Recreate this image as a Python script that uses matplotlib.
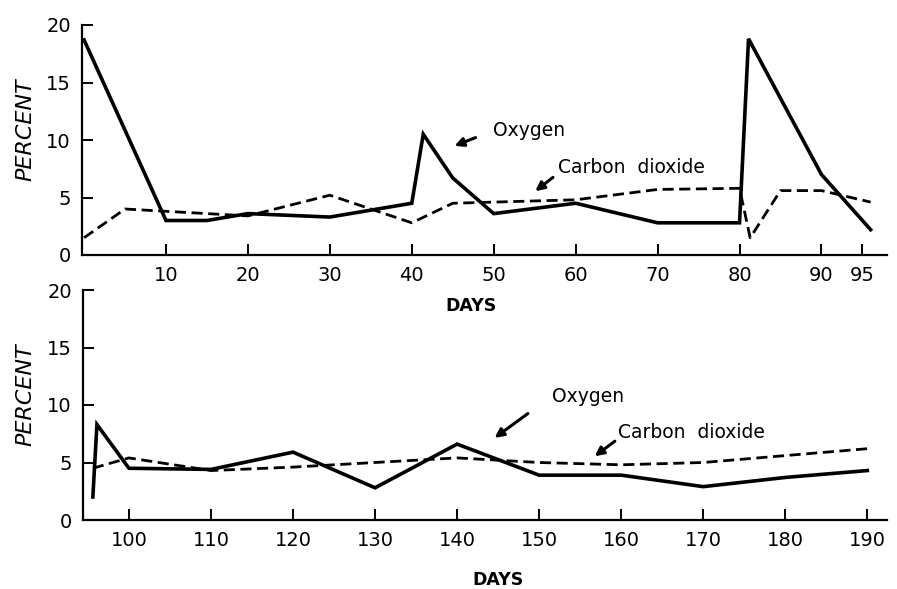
import numpy as np
import matplotlib.pyplot as plt

# --- data ---
top_days_o2 = [0, 10, 15, 20, 30, 40, 41.4, 45, 50, 60, 70, 80, 81.1, 90, 96]
top_o2 = [18.7, 3.0, 3.0, 3.6, 3.3, 4.5, 10.5, 6.7, 3.6, 4.5, 2.8, 2.8, 18.8, 7.0, 2.2]
top_days_co2 = [0, 5, 10, 20, 30, 40, 45, 60, 70, 80, 81.3, 85, 90, 96]
top_co2 = [1.5, 4.0, 3.8, 3.4, 5.2, 2.8, 4.5, 4.8, 5.7, 5.8, 1.5, 5.6, 5.6, 4.6]

bot_days_o2 = [95.6, 96.1, 100, 110, 120, 130, 140, 150, 160, 170, 180, 190]
bot_o2 = [2.0, 8.3, 4.5, 4.4, 5.9, 2.8, 6.6, 3.9, 3.9, 2.9, 3.7, 4.3]
bot_days_co2 = [95.6, 100, 110, 120, 130, 140, 150, 160, 170, 180, 190]
bot_co2 = [4.5, 5.4, 4.3, 4.6, 5.0, 5.4, 5.0, 4.8, 5.0, 5.6, 6.2]

top_xticks = [10, 20, 30, 40, 50, 60, 70, 80, 90, 95]
bot_xticks = [100, 110, 120, 130, 140, 150, 160, 170, 180, 190]
yticks = [0, 5, 10, 15, 20]

plt.rcParams['font.family'] = 'DejaVu Sans'

fig = plt.figure(figsize=(8.97, 5.89), dpi=100)
ax1 = fig.add_axes([82/897, 1-255/589, 805/897, 230/589])
ax2 = fig.add_axes([83/897, 1-520/589, 804/897, 230/589])

dash = (0, (4, 2))
arrow = dict(arrowstyle='-|>', color='black', lw=2.2, mutation_scale=13)

def style(ax, xlim, xticks):
    ax.set_xlim(*xlim)
    ax.set_ylim(0, 20)
    ax.set_xticks(xticks)
    ax.set_yticks(yticks)
    ax.spines['top'].set_visible(False)
    ax.spines['right'].set_visible(False)
    for s in ('left', 'bottom'):
        ax.spines[s].set_linewidth(1.6)
    ax.tick_params(direction='in', length=8, width=1.4, labelsize=14, pad=8)
    ax.patch.set_alpha(0)

# Oberes Panel
ax1.plot(top_days_o2, top_o2, color='black', lw=2.6, solid_joinstyle='miter')
ax1.plot(top_days_co2, top_co2, color='black', lw=2.0, linestyle=dash)
style(ax1, (-0.25, 98.0), top_xticks)

ax1.text(49.9, 10.8, 'Oxygen', fontsize=13.5, va='center', ha='left')
ax1.annotate('', xy=(44.9, 9.4), xytext=(48.1, 10.3), arrowprops=arrow)
ax1.text(57.8, 7.6, 'Carbon  dioxide', fontsize=13.5, va='center', ha='left')
ax1.annotate('', xy=(54.8, 5.4), xytext=(57.5, 6.9), arrowprops=arrow)

# Unteres Panel
ax2.plot(bot_days_o2, bot_o2, color='black', lw=2.6, solid_joinstyle='miter')
ax2.plot(bot_days_co2, bot_co2, color='black', lw=2.0, linestyle=dash)
style(ax2, (94.4, 192.4), bot_xticks)

ax2.text(151.6, 10.7, 'Oxygen', fontsize=13.5, va='center', ha='left')
ax2.annotate('', xy=(144.3, 7.0), xytext=(148.9, 9.4), arrowprops=arrow)
ax2.text(159.6, 7.6, 'Carbon  dioxide', fontsize=13.5, va='center', ha='left')
ax2.annotate('', xy=(156.5, 5.4), xytext=(159.5, 7.0), arrowprops=arrow)

# Achsentitel
fig.text(471/897, 1-306/589, 'DAYS', ha='center', va='center', fontsize=12.5, fontweight='bold')
fig.text(498/897, 1-580/589, 'DAYS', ha='center', va='center', fontsize=12.5, fontweight='bold')
fig.text(25/897, 1-130/589, 'PERCENT', ha='center', va='center', rotation=90,
         fontsize=16, style='italic')
fig.text(25/897, 1-395/589, 'PERCENT', ha='center', va='center', rotation=90,
         fontsize=16, style='italic')

fig.savefig('out.png', dpi=100)
